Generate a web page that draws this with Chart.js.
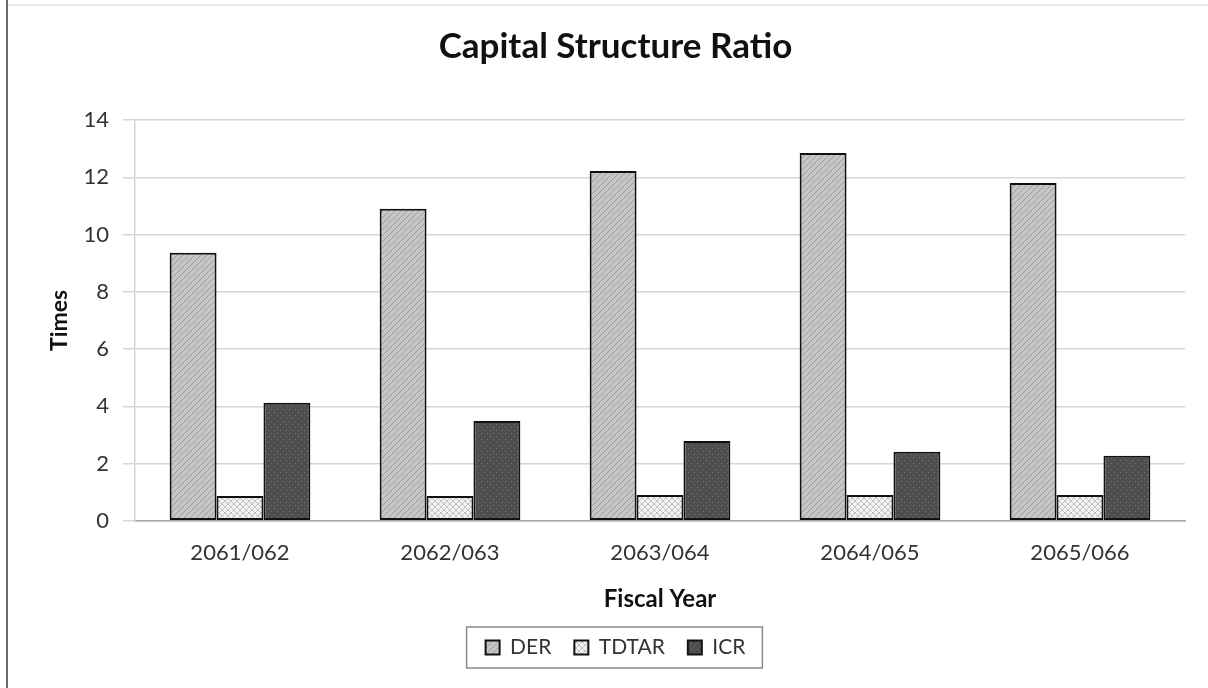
<!DOCTYPE html>
<html>
<head>
<meta charset="utf-8">
<script src="https://cdn.jsdelivr.net/npm/chart.js@4"></script>
<style>
    html, body { margin: 0; padding: 0; background: #fff; }
    #wrap { width: 1208px; height: 688px; position: relative; }
</style>
</head>
<body>
<div id="wrap"><canvas id="ratioChart" width="1208" height="688"></canvas></div>
<script>
// Chart data
const fiscalYears = ["2061/062", "2062/063", "2063/064", "2064/065", "2065/066"];
const derValues = [9.36, 10.9, 12.22, 12.85, 11.8];
const tdtarValues = [0.87, 0.87, 0.9, 0.9, 0.9];
const icrValues = [4.12, 3.49, 2.79, 2.41, 2.27];

// Build small repeating fill patterns (like the Excel pattern fills)
function makePattern(kind) {
    const c = document.createElement("canvas");
    c.width = 6;
    c.height = 6;
    const g = c.getContext("2d");
    if (kind === "diag") {
        g.fillStyle = "#c6c6c6";
        g.fillRect(0, 0, 6, 6);
        g.strokeStyle = "#9c9c9c";
        g.lineWidth = 1;
        g.beginPath();
        g.moveTo(0, 6); g.lineTo(6, 0);
        g.moveTo(-3, 3); g.lineTo(3, -3);
        g.moveTo(3, 9); g.lineTo(9, 3);
        g.stroke();
    } else if (kind === "cross") {
        g.fillStyle = "#f2f2f2";
        g.fillRect(0, 0, 6, 6);
        g.strokeStyle = "#b4b4b4";
        g.lineWidth = 0.8;
        g.beginPath();
        g.moveTo(0, 0); g.lineTo(6, 6);
        g.moveTo(0, 6); g.lineTo(6, 0);
        g.stroke();
    } else {
        g.fillStyle = "#4e4e4e";
        g.fillRect(0, 0, 6, 6);
        g.fillStyle = "#767676";
        g.fillRect(1, 1, 1, 1);
        g.fillRect(4, 4, 1, 1);
    }
    return g.createPattern(c, "repeat");
}

// Frame around the picture and a box around the legend
const framePlugin = {
    id: "frame",
    beforeDraw(chart) {
        const ctx = chart.ctx;
        ctx.save();
        ctx.fillStyle = "#ffffff";
        ctx.fillRect(0, 0, chart.width, chart.height);
        ctx.strokeStyle = "#e0e0e0";
        ctx.lineWidth = 1.5;
        ctx.beginPath();
        ctx.moveTo(7, 5); ctx.lineTo(chart.width, 5);
        ctx.stroke();
        ctx.strokeStyle = "#6a6a6a";
        ctx.lineWidth = 2;
        ctx.beginPath();
        ctx.moveTo(7, 0); ctx.lineTo(7, chart.height);
        ctx.stroke();
        ctx.restore();
    },
    afterDraw(chart) {
        const boxes = chart.legend && chart.legend.legendHitBoxes;
        if (!boxes || !boxes.length) return;
        let left = Infinity, right = -Infinity, top = Infinity, bottom = -Infinity;
        boxes.forEach((b) => {
            left = Math.min(left, b.left);
            right = Math.max(right, b.left + b.width);
            top = Math.min(top, b.top);
            bottom = Math.max(bottom, b.top + b.height);
        });
        const ctx = chart.ctx;
        ctx.save();
        ctx.strokeStyle = "#8a8a8a";
        ctx.lineWidth = 1.5;
        ctx.strokeRect(left - 19, top - 10, right - left + 36, bottom - top + 20);
        ctx.restore();
    },
};

const ctx = document.getElementById("ratioChart").getContext("2d");

new Chart(ctx, {
    type: "bar",
    data: {
        labels: fiscalYears,
        datasets: [
            { label: "DER", data: derValues, backgroundColor: makePattern("diag") },
            { label: "TDTAR", data: tdtarValues, backgroundColor: makePattern("cross") },
            { label: "ICR", data: icrValues, backgroundColor: makePattern("dots") },
        ].map((d) => Object.assign(d, {
            borderColor: "#111",
            borderWidth: 2,
            borderSkipped: false,
            categoryPercentage: 0.67,
            barPercentage: 1.0,
        })),
    },
    options: {
        responsive: false,
        animation: false,
        devicePixelRatio: 1,
        layout: { padding: { left: 46, right: 23, top: 0, bottom: 20 } },
        plugins: {
            title: {
                display: true,
                text: "Capital Structure Ratio",
                color: "#111",
                font: { family: "Lato", size: 35, weight: "bold" },
                padding: { top: 26, bottom: 52 },
            },
            legend: {
                position: "bottom",
                labels: {
                    color: "#333",
                    font: { family: "Lato", size: 21 },
                    boxWidth: 14,
                    boxHeight: 14,
                    padding: 23,
                },
            },
            tooltip: { enabled: false },
        },
        scales: {
            x: {
                grid: { display: false, drawTicks: false },
                border: { display: true, color: "#a6a6a6", width: 1.5 },
                ticks: {
                    color: "#333",
                    font: { family: "Lato", size: 22 },
                    padding: 19,
                    maxRotation: 0,
                },
                title: {
                    display: true,
                    text: "Fiscal Year",
                    color: "#111",
                    font: { family: "Lato", size: 24, weight: "bold" },
                    padding: { top: 0, bottom: 0 },
                },
            },
            y: {
                min: 0,
                max: 14,
                afterFit(scale) { scale.width = 89; },
                grid: { color: "#d6d6d6", lineWidth: 1.5, tickLength: 12, tickColor: "#d6d6d6" },
                border: { display: true, color: "#d6d6d6", width: 1.5 },
                ticks: {
                    stepSize: 2,
                    color: "#333",
                    font: { family: "Lato", size: 22 },
                    padding: 14,
                },
                title: {
                    display: true,
                    text: "Times",
                    color: "#111",
                    font: { family: "Lato", size: 23, weight: "bold" },
                    padding: { top: 0, bottom: 0 },
                },
            },
        },
    },
    plugins: [framePlugin],
});
</script>
</body>
</html>
